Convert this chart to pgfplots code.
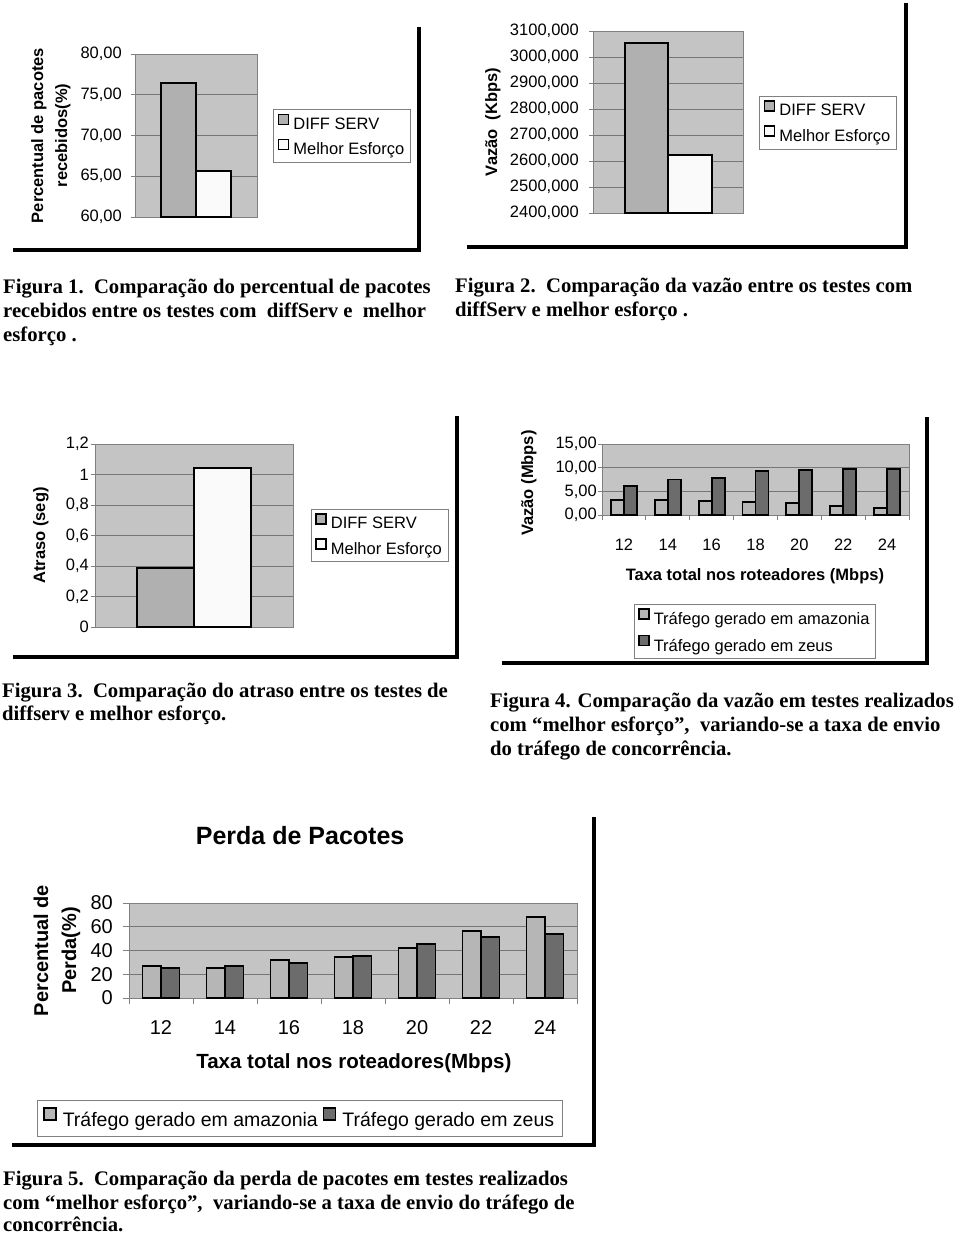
\documentclass[border=0pt]{standalone}
\usepackage{fontspec}
\setmainfont{Liberation Sans}
\newfontfamily\capfont{Liberation Serif}
\usepackage{pgfplots}
\pgfplotsset{compat=1.18}
\definecolor{plotbg}{RGB}{196,196,196}
\definecolor{gridc}{RGB}{118,118,118}
\definecolor{axisc}{RGB}{128,128,128}
\definecolor{dsc}{RGB}{176,176,176}
\definecolor{mec}{RGB}{250,250,250}
\definecolor{amz}{RGB}{182,182,182}
\definecolor{zeu}{RGB}{108,108,108}
\newcommand\fA{\fontsize{16.5pt}{19pt}\selectfont}
\newcommand\fB{\fontsize{20pt}{23pt}\selectfont}
\newcommand\capf{\capfont\bfseries\fontsize{20.7pt}{24pt}\selectfont}
\pgfplotsset{
  xlbase/.style={
    scale only axis, anchor=south west,
    ybar=0pt,
    axis background/.style={fill=plotbg},
    axis line style={draw=axisc, line width=0.9pt},
    ymajorgrids, major grid style={draw=gridc, line width=0.9pt},
    tick align=outside, major tick length=4pt,
    ytick pos=left, xtick pos=bottom,
    tick style={draw=axisc, line width=0.9pt},
    tick label style={font=\fA},
    yticklabel style={anchor=east, inner sep=0pt},
    xticklabel style={anchor=base, inner sep=0pt},
    legend style={draw=axisc, line width=0.7pt, fill=white, font=\fA,
      cells={anchor=west}, inner xsep=4pt, inner ysep=4pt, row sep=6pt},
    legend image code/.code={\draw[##1, line width=1.4pt] (0pt,0pt) rectangle (10pt,10pt); \path (12pt,5pt);},
  },
  barA/.style={fill=dsc, draw=black, line width=2pt},
  barB/.style={fill=mec, draw=black, line width=2pt},
  barC/.style={fill=amz, draw=black, line width=1.8pt},
  barD/.style={fill=zeu, draw=black, line width=1.8pt},
}
\begin{document}
\begin{tikzpicture}
\useasboundingbox (0pt,0pt) rectangle (960pt,-1234pt);

% ---------------- Panel 1
\begin{axis}[xlbase, at={(135pt,-217pt)}, width=122pt, height=163pt,
  xmin=-1, xmax=1, xtick=\empty, ymin=60, ymax=80,
  ytick={60,65,70,75,80},
  yticklabels={{60,00},{65,00},{70,00},{75,00},{80,00}},
  yticklabel style={xshift=-9pt},
  bar width=35pt,
  ylabel={Percentual de pacotes\\recebidos(\%)},
  ylabel style={align=center, font=\bfseries\fontsize{16.5pt}{24pt}\selectfont,
    at={(axis description cs:-0.689,0.5)}, anchor=center},
  legend style={at={(1.697,0.497)}, anchor=center}]
\addplot[barA] coordinates {(0,76.4)};
\addplot[barB] coordinates {(0,65.6)};
\legend{DIFF SERV, Melhor Esforço}
\end{axis}

% ---------------- Panel 2
\begin{axis}[xlbase, at={(593pt,-213pt)}, width=150pt, height=182pt,
  xmin=-1, xmax=1, xtick=\empty, ymin=2400, ymax=3100,
  ytick={2400,2500,2600,2700,2800,2900,3000,3100},
  yticklabels={{2400,000},{2500,000},{2600,000},{2700,000},{2800,000},{2900,000},{3000,000},{3100,000}},
  yticklabel style={xshift=-10pt},
  bar width=43.5pt,
  ylabel={Vazão\ \ (Kbps)},
  ylabel style={font=\bfseries\fA, at={(axis description cs:-0.667,0.5)}, anchor=center},
  legend style={at={(1.567,0.497)}, anchor=center}]
\addplot[barA] coordinates {(0,3052)};
\addplot[barB] coordinates {(0,2624)};
\legend{DIFF SERV, Melhor Esforço}
\end{axis}

% ---------------- Panel 3
\begin{axis}[xlbase, at={(95pt,-627pt)}, width=198pt, height=183pt,
  xmin=-1, xmax=1, xtick=\empty, ymin=0, ymax=1.2,
  ytick={0,0.2,0.4,0.6,0.8,1,1.2},
  yticklabels={{0},{0,2},{0,4},{0,6},{0,8},{1},{1,2}},
  yticklabel style={xshift=-2pt},
  bar width=57pt,
  ylabel={Atraso (seg)},
  ylabel style={font=\bfseries\fA, at={(axis description cs:-0.273,0.5)}, anchor=center},
  legend style={at={(1.437,0.5)}, anchor=center}]
\addplot[barA] coordinates {(0,0.39)};
\addplot[barB] coordinates {(0,1.04)};
\legend{DIFF SERV, Melhor Esforço}
\end{axis}

% ---------------- Panel 4
\begin{axis}[xlbase, at={(602pt,-515pt)}, width=307pt, height=71pt,
  xmin=-0.5, xmax=6.5, ymin=0, ymax=15,
  ytick={0,5,10,15},
  yticklabels={{0,00},{5,00},{10,00},{15,00}},
  yticklabel style={xshift=-1pt},
  xtick={0,1,2,3,4,5,6},
  xticklabels={12,14,16,18,20,22,24},
  xtick style={draw=none},
  xticklabel style={yshift=-31pt},
  extra x ticks={-0.5,0.5,1.5,2.5,3.5,4.5,5.5,6.5},
  extra x tick labels={},
  extra x tick style={xtick style={draw=axisc}, major tick length=5pt},
  bar width=13pt,
  ylabel={Vazão (Mbps)},
  ylabel style={font=\bfseries\fA, at={(axis description cs:-0.238,0.45)}, anchor=center},
  xlabel={Taxa total nos roteadores (Mbps)},
  xlabel style={font=\bfseries\fA, at={(axis description cs:0.498,-0.859)}, anchor=center},
  legend style={at={(0.498,-1.641)}, anchor=center, inner xsep=4pt, inner ysep=4pt, row sep=7pt}]
\addplot[barC] coordinates {(0,3.1) (1,3.1) (2,3.0) (3,2.75) (4,2.5) (5,1.9) (6,1.4)};
\addplot[barD] coordinates {(0,6.2) (1,7.5) (2,7.85) (3,9.3) (4,9.5) (5,9.65) (6,9.65)};
\legend{Tráfego gerado em amazonia, Tráfego gerado em zeus}
\end{axis}

% ---------------- Panel 5
\begin{axis}[xlbase, at={(129pt,-998pt)}, width=448pt, height=95pt,
  xmin=-0.5, xmax=6.5, ymin=0, ymax=80,
  ytick={0,20,40,60,80},
  yticklabels={{0},{20},{40},{60},{80}},
  tick label style={font=\fB},
  yticklabel style={xshift=-10pt},
  major tick length=6pt,
  xtick={0,1,2,3,4,5,6},
  xticklabels={12,14,16,18,20,22,24},
  xtick style={draw=none},
  xticklabel style={yshift=-30pt},
  extra x ticks={-0.5,0.5,1.5,2.5,3.5,4.5,5.5,6.5},
  extra x tick labels={},
  extra x tick style={xtick style={draw=axisc}, major tick length=6pt},
  bar width=18.5pt,
  title={Perda de Pacotes},
  title style={font=\bfseries\fontsize{25pt}{28pt}\selectfont, at={(axis description cs:0.382,1.642)}, anchor=center},
  ylabel={Percentual de\\Perda(\%)},
  ylabel style={align=center, font=\bfseries\fontsize{20pt}{28pt}\selectfont,
    at={(axis description cs:-0.161,0.5)}, anchor=center},
  xlabel={Taxa total nos roteadores(Mbps)},
  xlabel style={font=\bfseries\fontsize{20.5pt}{23pt}\selectfont, at={(axis description cs:0.502,-0.684)}, anchor=center},
  legend columns=2,
  legend image code/.code={\draw[#1, line width=1.4pt] (0pt,0pt) rectangle (12pt,12pt); \path (13pt,6pt);},
  legend style={font=\fontsize{19.5pt}{22pt}\selectfont, at={(0.381,-1.268)}, anchor=center,
    inner xsep=6pt, inner ysep=7pt, /tikz/column sep=3pt}]
\addplot[barC] coordinates {(0,26.7) (1,25.3) (2,31.7) (3,34.5) (4,42.4) (5,56.7) (6,68.2)};
\addplot[barD] coordinates {(0,25.3) (1,26.7) (2,29.2) (3,35.6) (4,45.8) (5,51.6) (6,54.2)};
\legend{Tráfego gerado em amazonia, Tráfego gerado em zeus}
\end{axis}

% ---------------- frames (shadow borders)
\draw[line width=3.5pt] (13pt,-250pt) -- (419pt,-250pt) -- (419pt,-27pt);
\draw[line width=3.5pt] (467pt,-247pt) -- (906pt,-247pt) -- (906pt,-3pt);
\draw[line width=3.5pt] (13pt,-657pt) -- (457pt,-657pt) -- (457pt,-416pt);
\draw[line width=3.5pt] (502pt,-663pt) -- (927pt,-663pt) -- (927pt,-417pt);
\draw[line width=3.5pt] (12pt,-1145pt) -- (594pt,-1145pt) -- (594pt,-817pt);

% ---------------- captions
\begin{scope}[every node/.style={anchor=base west, inner sep=0pt, font=\capf}]
\node at (3pt,-293pt) {Figura 1.\hspace{0.5em}Comparação do percentual de pacotes};
\node at (3pt,-317pt) {recebidos entre os testes com\hspace{0.5em}diffServ e\hspace{0.5em}melhor};
\node at (3pt,-341pt) {esforço .};
\node at (455pt,-292pt) {Figura 2.\hspace{0.5em}Comparação da vazão entre os testes com};
\node at (455pt,-316pt) {diffServ e melhor esforço .};
\node at (2pt,-697pt) {Figura 3.\hspace{0.5em}Comparação do atraso entre os testes de};
\node at (2pt,-720pt) {diffserv e melhor esforço.};
\node at (490pt,-707pt) {Figura 4. Comparação da vazão em testes realizados};
\node at (490pt,-731pt) {com “melhor esforço”,\hspace{0.5em}variando-se a taxa de envio};
\node at (490pt,-755pt) {do tráfego de concorrência.};
\node at (3pt,-1185pt) {Figura 5.\hspace{0.5em}Comparação da perda de pacotes em testes realizados};
\node at (3pt,-1209pt) {com “melhor esforço”,\hspace{0.5em}variando-se a taxa de envio do tráfego de};
\node at (3pt,-1231pt) {concorrência.};
\end{scope}
\end{tikzpicture}
\end{document}
